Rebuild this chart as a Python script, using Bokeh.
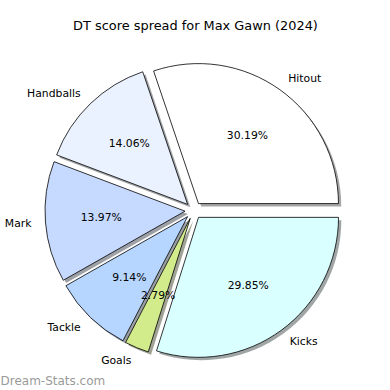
import numpy as np
from bokeh.plotting import figure
from bokeh.models import ColumnDataSource
from bokeh.core.properties import value
from bokeh.embed import file_html
from bokeh.resources import INLINE

# ---- data ----
categories = ["Hitout", "Handballs", "Mark", "Tackle", "Goals", "Kicks"]
percentages = [30.19, 14.06, 13.97, 9.14, 2.79, 29.85]
colors = ["#ffffff", "#eaf1ff", "#c6d9ff", "#b7d6ff", "#d2ec8c", "#daffff"]
title_text = "DT score spread for Max Gawn (2024)"
watermark_text = "Dream-Stats.com"

# ---- layout (pixel-like data space, y up) ----
W = H = 390
CX, CY = 193.0, 390 - 210.0
R = 140.0
EXPLODE = 8.5
SHADOW = 2.8
FONT = value("DejaVu Sans")

vals = np.array(percentages, dtype=float)
frac = vals / vals.sum()
ends = np.cumsum(frac) * 2 * np.pi
starts = np.concatenate([[0.0], ends[:-1]])
mids = (starts + ends) / 2
cx = CX + EXPLODE * np.cos(mids)
cy = CY + EXPLODE * np.sin(mids)

def hex_to_rgb(h):
    h = h.lstrip("#")
    return tuple(int(h[i:i + 2], 16) for i in (0, 2, 4))

shadow_colors = ["#%02x%02x%02x" % tuple(int(0.3 * c) for c in hex_to_rgb(col)) for col in colors]

src = ColumnDataSource(dict(
    x=cx, y=cy, sx=cx + SHADOW, sy=cy - SHADOW,
    start=starts, end=ends, color=colors, scolor=shadow_colors,
))

p = figure(width=W, height=H, x_range=(0, 390), y_range=(0, 390),
           output_backend="svg", toolbar_location=None, min_border=0,
           match_aspect=False)
p.axis.visible = False
p.grid.visible = False
p.outline_line_color = None
p.background_fill_color = "white"
p.border_fill_color = "white"

p.wedge(x="sx", y="sy", radius=R, start_angle="start", end_angle="end",
        fill_color="scolor", fill_alpha=0.5, line_color=None, source=src)
p.wedge(x="x", y="y", radius=R, start_angle="start", end_angle="end",
        fill_color="color", line_color="black", line_width=0.8, source=src)

# category labels
lx = cx + 1.1 * R * np.cos(mids)
ly = cy + 1.1 * R * np.sin(mids)
aligns = ["left" if np.cos(m) > 0 else "right" for m in mids]
p.text(x=lx, y=ly, text=categories, text_align=aligns, text_baseline="middle",
       text_font=FONT, text_font_size="10.8px", text_color="black")

# percentage labels
px_ = cx + 0.6 * R * np.cos(mids)
py_ = cy + 0.6 * R * np.sin(mids)
p.text(x=px_, y=py_, text=["%.2f%%" % v for v in percentages], text_align="center",
       text_baseline="middle", text_font=FONT, text_font_size="10.8px", text_color="black")

# title
p.text(x=[195], y=[390 - 25], text=[title_text], text_align="center",
       text_baseline="middle", text_font=FONT, text_font_size="12.9px", text_color="black")

# watermark
p.text(x=[0], y=[390 - 380], text=[watermark_text], text_align="left",
       text_baseline="middle", text_font=FONT, text_font_size="12px",
       text_color="#9a9a9a")

open("out.html", "w").write(file_html(p, INLINE))
